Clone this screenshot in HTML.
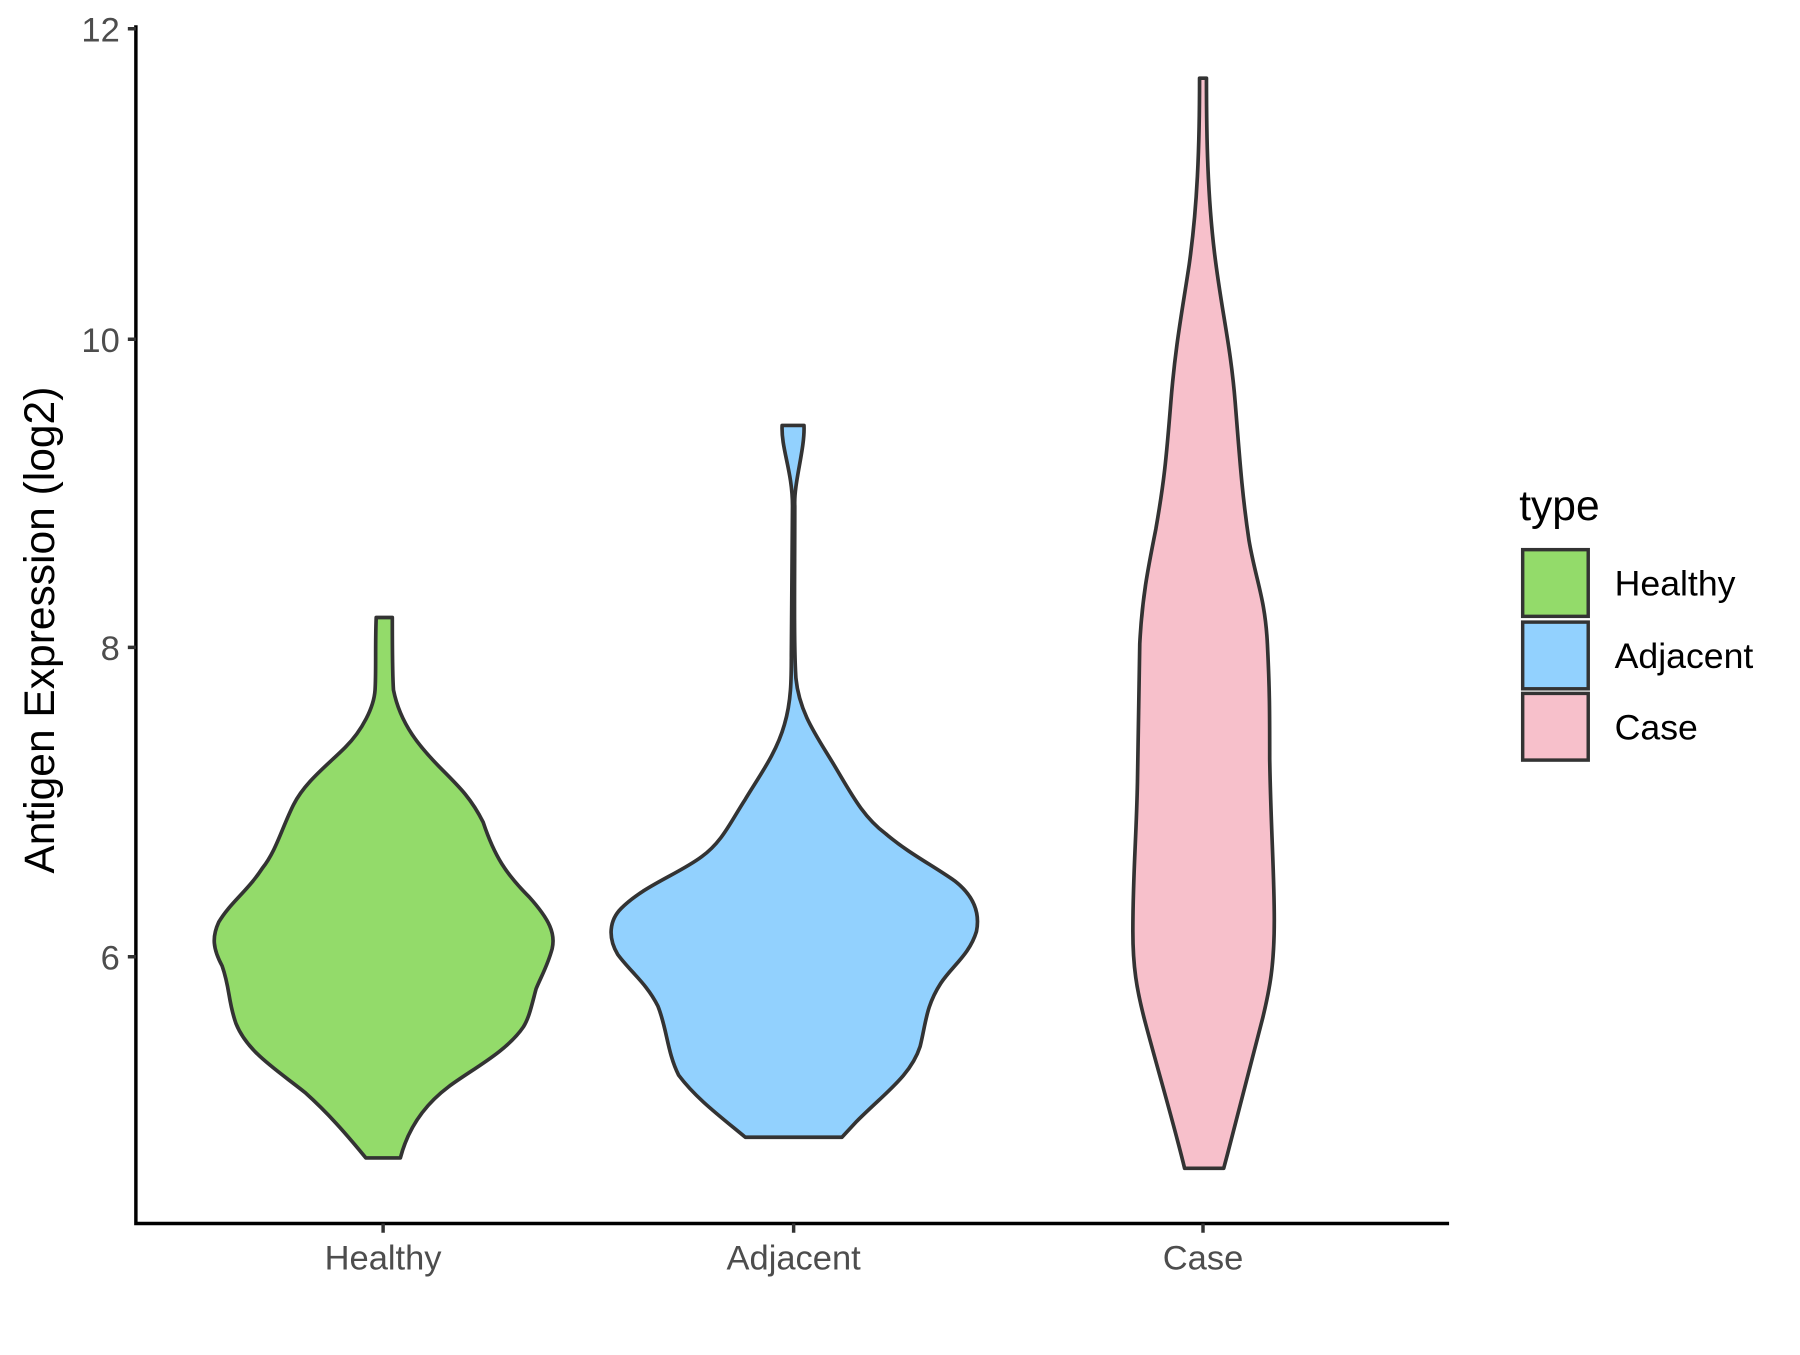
<!DOCTYPE html>
<html><head><style>html,body{margin:0;padding:0;background:#fff}</style></head>
<body>
<svg width="1800" height="1350" viewBox="0 0 1565 1174" xmlns="http://www.w3.org/2000/svg" font-family="Liberation Sans, Arial, sans-serif">
<rect width="1565" height="1174" fill="#fff"/>
<g stroke="#333" stroke-width="3.2" stroke-linejoin="round">
<path fill="#93DB6A" d="M327,537 L341,537 C341,560 341,585 342,600 C348,630 365,650 385,670 C400,685 410,695 420,715 C430,745 440,760 460,780 C478,800 483,812 480,825 C476,840 470,850 466,860 C462,875 460,885 455,893 C440,915 410,930 390,945 C370,960 355,980 348,1007 L318,1007 C300,985 285,968 265,950 C240,930 215,915 205,890 C198,870 200,860 193,840 C185,825 184,815 190,802 C200,785 215,775 228,755 C240,740 245,720 255,700 C265,680 285,665 300,650 C315,635 325,615 326,600 C327,585 326,560 327,537 Z"/>
<path fill="#92D1FE" d="M680,370 L699,370 C700,390 690,420 691,440 C691,500 690,560 692,590 C695,620 710,640 725,665 C740,690 750,710 770,725 C790,742 810,752 830,766 C848,780 852,795 849,810 C843,830 828,840 818,855 C805,875 805,890 800,910 C792,935 770,950 745,975 L732,989 L648,989 C625,970 605,955 590,935 C580,915 580,895 572,875 C562,855 548,845 537,830 C528,815 530,800 540,790 C560,770 590,760 610,745 C628,732 635,715 648,695 C660,675 675,655 682,630 C688,610 688,590 688,570 C688,520 689,470 689,440 C689,410 679,390 680,370 Z"/>
<path fill="#F7C0CB" d="M1043,68 L1049,68 C1049,120 1050,170 1056,220 C1062,270 1070,300 1074,350 C1078,400 1080,430 1086,470 C1092,505 1100,520 1102,560 C1104,600 1104,620 1104,660 C1105,720 1108,760 1108,800 C1108,840 1104,860 1098,885 C1085,935 1075,975 1064,1016 L1030,1016 C1020,975 1008,935 996,890 C988,860 985,840 985,810 C985,760 988,730 989,680 C990,640 990,600 991,560 C993,520 998,495 1005,460 C1012,420 1014,400 1018,350 C1022,300 1028,270 1034,230 C1041,180 1043,130 1043,68 Z"/>
</g>
<g stroke="#000" stroke-width="3" fill="none">
<path d="M118,22 V1064 H1260"/>
</g>
<g stroke="#333" stroke-width="3">
<path d="M111,25 H118 M111,295 H118 M111,563 H118 M111,832 H118"/>
<path d="M333,1064 V1072 M690,1064 V1072 M1046,1064 V1072"/>
</g>
<g fill="#4d4d4d" font-size="30">
<text x="104" y="36" text-anchor="end">12</text>
<text x="104" y="306" text-anchor="end">10</text>
<text x="104" y="574" text-anchor="end">8</text>
<text x="104" y="843" text-anchor="end">6</text>
<text x="333" y="1104" text-anchor="middle">Healthy</text>
<text x="690" y="1104" text-anchor="middle">Adjacent</text>
<text x="1046" y="1104" text-anchor="middle">Case</text>
</g>
<text transform="translate(47,548) rotate(-90)" text-anchor="middle" font-size="37" fill="#000">Antigen Expression (log2)</text>
<text x="1321" y="452" font-size="37" fill="#000">type</text>
<g stroke="#333" stroke-width="3">
<rect x="1324" y="478" width="57" height="58" fill="#93DB6A"/>
<rect x="1324" y="541" width="57" height="58" fill="#92D1FE"/>
<rect x="1324" y="603" width="57" height="58" fill="#F7C0CB"/>
</g>
<g font-size="31" fill="#000">
<text x="1404" y="518">Healthy</text>
<text x="1404" y="581">Adjacent</text>
<text x="1404" y="643">Case</text>
</g>
</svg>
</body></html>
